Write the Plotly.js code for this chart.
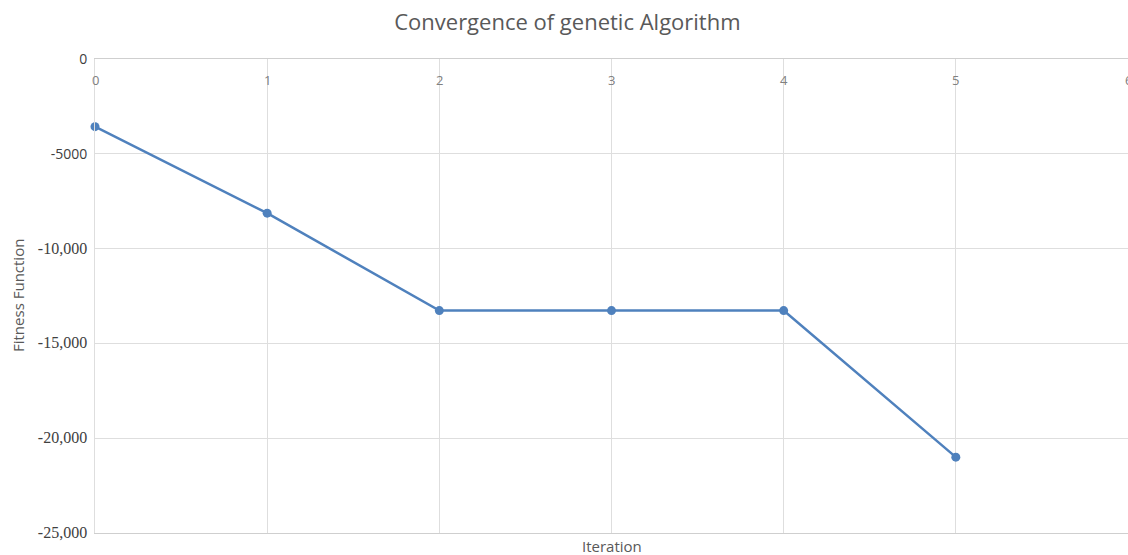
<!DOCTYPE html>
<html>
<head>
<meta charset="utf-8">
<script src="https://cdn.plot.ly/plotly-3.0.1.min.js"></script>
<style>html,body{margin:0;padding:0;background:#fff;overflow:hidden}</style>
</head>
<body>
<div id="chart" style="width:1128px;height:555px"></div>
<script>
const iterations = [0, 1, 2, 3, 4, 5];
const fitness = [-3570, -8130, -13270, -13270, -13270, -21000];
const yTickVals = [0, -5000, -10000, -15000, -20000, -25000];
const yTickText = ["0", "-5000", "-10,000", "-15,000", "-20,000", "-25,000"];
const xTickVals = [0, 1, 2, 3, 4, 5, 6];
const xTickText = ["0", "1", "2", "3", "4", "5", "6"];
const titleText = "Convergence of genetic Algorithm";
const xTitle = "Iteration";
const yTitle = "Fitness Function";

const sansStyle = 'font-family:Open Sans;font-size:14px';
const serifStyle = 'font-family:Liberation Serif;font-size:16px';
const yLabels = yTickText.map((t, i) =>
  `<span style="${i < 2 ? sansStyle : serifStyle}">${t}</span>`);

const trace = {
  x: iterations, y: fitness, type: 'scatter', mode: 'lines+markers',
  line: {color: '#4f81bd', width: 2.5},
  marker: {color: '#4f81bd', size: 9},
  cliponaxis: false,
  hoverinfo: 'skip'
};

const xLabelAnnots = xTickVals.map((v, i) => ({
  text: xTickText[i], xref: 'x', x: v, yref: 'paper', y: 1, yanchor: 'middle', yshift: -21,
  showarrow: false, font: {family: 'Open Sans', size: 13, color: '#808080'}
}));

const layout = {
  width: 1128, height: 555,
  margin: {l: 95, r: 0, t: 59, b: 22},
  paper_bgcolor: '#fff', plot_bgcolor: '#fff',
  showlegend: false,
  title: {
    text: titleText, xref: 'container', x: 0.503, yref: 'container', y: 0.96,
    xanchor: 'center', yanchor: 'middle',
    font: {family: 'Open Sans', size: 22, color: '#595959'}
  },
  xaxis: {
    range: [0, 6], side: 'top', tickvals: xTickVals, showticklabels: false, ticks: '',
    showgrid: true, gridcolor: '#dedede', gridwidth: 1,
    zeroline: false, showline: true, mirror: true, linecolor: '#cfcfcf', linewidth: 1,
    fixedrange: true
  },
  yaxis: {
    range: [-25000, 0], tickvals: yTickVals, ticktext: yLabels,
    showgrid: true, gridcolor: '#dedede', gridwidth: 1,
    zeroline: false, showline: true, linecolor: '#dedede', linewidth: 1,
    ticks: '', ticklabelstandoff: 4,
    tickfont: {family: 'Open Sans', size: 14, color: '#404040'},
    fixedrange: true
  },
  annotations: xLabelAnnots.concat([
    {text: xTitle, xref: 'x', x: 3, yref: 'paper', y: 0, yanchor: 'top', yshift: -1,
     showarrow: false, font: {family: 'Open Sans', size: 15, color: '#595959'}},
    {text: yTitle, xref: 'paper', x: 0, xanchor: 'center', xshift: -77, yref: 'paper', y: 0.5,
     textangle: -90, showarrow: false, font: {family: 'Open Sans', size: 15, color: '#595959'}}
  ])
};

Plotly.newPlot('chart', [trace], layout, {displayModeBar: false, staticPlot: true});
</script>
</body>
</html>
